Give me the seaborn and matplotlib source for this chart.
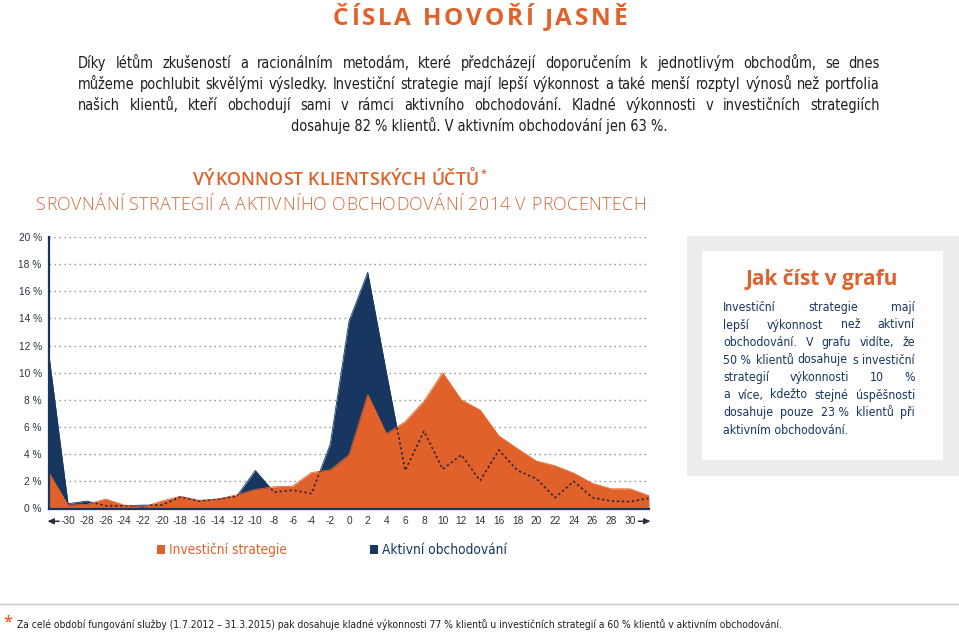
import numpy as np
import pandas as pd
import seaborn as sns
import matplotlib
matplotlib.use("Agg")
import matplotlib.pyplot as plt
from matplotlib import font_manager as fm
from matplotlib.font_manager import FontProperties
from matplotlib.patches import Rectangle, Patch
from matplotlib.lines import Line2D

# ---------------- data ----------------
returns = list(range(-32, 33, 2))
strategie = [2.6, 0.25, 0.3, 0.7, 0.25, 0.1, 0.55, 0.9, 0.6, 0.7, 1.0, 1.4, 1.6, 1.65,
             2.65, 2.85, 3.95, 8.4, 5.5, 6.4, 7.9, 10.0, 8.0, 7.25, 5.35, 4.4, 3.5,
             3.15, 2.6, 1.85, 1.45, 1.45, 0.95]
aktivni = [11.1, 0.35, 0.55, 0.2, 0.2, 0.25, 0.25, 0.85, 0.55, 0.7, 0.9, 2.8, 1.2, 1.35,
           1.1, 4.75, 13.8, 17.4, 10.0, 2.8, 5.7, 2.9, 3.95, 2.05, 4.3, 2.8, 2.2,
           0.8, 2.0, 0.8, 0.55, 0.5, 0.75]
x_tick_values = list(range(-32, 33, 2))
x_tick_labels = [""] + [str(v) for v in range(-30, 31, 2)] + [""]
y_tick_values = list(range(0, 21, 2))
y_tick_labels = [f"{v} %" for v in y_tick_values]
series_names = ["Investiční strategie", "Aktivní obchodování"]

title = "ČÍSLA HOVOŘÍ JASNĚ"
para_lines = [
    "Díky létům zkušeností a racionálním metodám, které předcházejí doporučením k jednotlivým obchodům, se dnes",
    "můžeme pochlubit skvělými výsledky. Investiční strategie mají lepší výkonnost a také menší rozptyl výnosů než portfolia",
    "našich klientů, kteří obchodují sami v rámci aktivního obchodování. Kladné výkonnosti v investičních strategiích",
    "dosahuje 82 % klientů. V aktivním obchodování jen 63 %.",
]
chart_title = "VÝKONNOST KLIENTSKÝCH ÚČTŮ"
chart_subtitle = "SROVNÁNÍ STRATEGIÍ A AKTIVNÍHO OBCHODOVÁNÍ 2014 V PROCENTECH"
box_title = "Jak číst v grafu"
box_lines = [
    "Investiční strategie mají",
    "lepší výkonnost než aktivní",
    "obchodování. V grafu vidíte, že",
    "50\u00a0% klientů dosahuje s investiční",
    "strategií výkonnosti 10 %",
    "a více, kdežto stejné úspěšnosti",
    "dosahuje pouze 23\u00a0% klientů při",
    "aktivním obchodování.",
]
footnote = ("Za celé období fungování služby (1.7.2012 – 31.3.2015) pak dosahuje kladné výkonnosti "
            "77 % klientů u investičních strategií a 60 % klientů v aktivním obchodování.")

# ---------------- style ----------------
ORANGE = "#e0612a"
NAVY = "#173760"
TXT = "#1e1e1e"
W, H = 959, 634

sns.set_theme(style="white")
plt.rcParams["font.family"] = ["DejaVu Sans"]

fig = plt.figure(figsize=(W / 100, H / 100), dpi=100)
renderer = fig.canvas.get_renderer()


def text_w(s, prop):
    w, h, d = renderer.get_text_width_height_descent(s, prop, ismath=False)
    return w


def x_height(prop):
    w, h, d = renderer.get_text_width_height_descent("x", prop, ismath=False)
    return h - d


def P(base, size):
    p = base.copy()
    p.set_size(size)
    return p


def regular_file(name, stretch=None):
    bad = ("bold", "italic", "oblique", "light", "thin", "black", "medium", "mono", "heavy")
    out = []
    for f in fm.fontManager.ttflist:
        fn = f.fname.lower().rsplit("/", 1)[-1]
        if f.name != name or f.style != "normal" or any(k in fn for k in bad):
            continue
        if str(f.weight) not in ("400", "normal", "regular", "book"):
            continue
        if stretch is not None and str(f.stretch) != stretch:
            continue
        out.append(f.fname)
    return sorted(out)[0] if out else None


_c = (regular_file("Liberation Sans Narrow") or regular_file("DejaVu Sans", "condensed")
      or regular_file("Liberation Sans"))
COND = FontProperties(fname=_c) if _c else FontProperties(family="DejaVu Sans")
_t = regular_file("Liberation Sans")
TICK = FontProperties(fname=_t) if _t else COND


def tracked(text, x0, x1, baseline, prop, color):
    chars = list(text)
    sp = text_w("a a", prop) - text_w("aa", prop)
    ws = [sp if c == " " else text_w(c, prop) for c in chars]
    tr = (x1 - x0 - sum(ws)) / (len(chars) - 1)
    x = x0
    for c, w in zip(chars, ws):
        if c != " ":
            fig.text(x / W, 1 - baseline / H, c, ha="left", va="baseline",
                     fontproperties=prop, color=color)
        x += w + tr


def justify(lines, x0, x1, y0, dy, prop, xh_px, color, last="center"):
    p = P(prop, 13)
    p.set_size(13 * xh_px / x_height(p))
    mx = max(text_w(l, p) for l in lines[:-1])
    if mx > (x1 - x0) * 0.985:
        p.set_size(p.get_size() * (x1 - x0) * 0.985 / mx)
    for i, line in enumerate(lines):
        y = 1 - (y0 + i * dy) / H
        if i == len(lines) - 1:
            if last == "center":
                fig.text((x0 + x1) / 2 / W, y, line, ha="center", va="baseline",
                         fontproperties=p, color=color)
            else:
                fig.text(x0 / W, y, line, ha="left", va="baseline",
                         fontproperties=p, color=color)
            continue
        words = line.split(" ")
        ws = [text_w(w, p) for w in words]
        gap = (x1 - x0 - sum(ws)) / (len(words) - 1)
        x = x0
        for wd, wv in zip(words, ws):
            fig.text(x / W, y, wd, ha="left", va="baseline", fontproperties=p, color=color)
            x += wv + gap
    return p


# ---------------- headings & paragraph ----------------
bold_prop = FontProperties(family="Open Sans", weight="bold")
semi_prop = FontProperties(family="Open Sans", weight="semibold")
light_prop = FontProperties(family="Open Sans", weight="light")

tracked(title, 333, 627, 25, P(bold_prop, 17.5), ORANGE)
justify(para_lines, 78, 880, 68, 21, COND, 9.0, TXT, last="center")

tracked(chart_title, 193, 479, 185, P(semi_prop, 12.8), ORANGE)
fig.text(481 / W, 1 - 177 / H, "*", fontproperties=P(semi_prop, 8),
         color=ORANGE, ha="left", va="baseline")
tracked(chart_subtitle, 36, 646, 210, P(light_prop, 12.9), "#d2683a")

# ---------------- chart ----------------
df = pd.DataFrame({"x": returns, series_names[0]: strategie, series_names[1]: aktivni})

x_left, x_right, y_bot, y_top = 49.3, 648.7, 508.5, 237.0
ax = fig.add_axes([x_left / W, 1 - y_bot / H, (x_right - x_left) / W, (y_bot - y_top) / H])
ax.set_facecolor("none")

ax.fill_between(df["x"], 0, df[series_names[1]], color=NAVY, lw=0, zorder=2)
sns.lineplot(data=df, x="x", y=series_names[1], ax=ax, color=NAVY, lw=0.6, zorder=2)
poly = ax.fill_between(df["x"], 0, df[series_names[0]], color=ORANGE, lw=0, zorder=3)
sns.lineplot(data=df, x="x", y=series_names[0], ax=ax, color=ORANGE, lw=0.6, zorder=3)
sns.lineplot(data=df, x="x", y=series_names[1], ax=ax, color="#2b2440", lw=1.2,
             linestyle=(0, (1.4, 1.6)), zorder=4)
ax.lines[-1].set_clip_path(poly.get_paths()[0], ax.transData)

ax.set_xlim(-32, 32)
ax.set_ylim(0, 20)
ax.set_xlabel("")
ax.set_ylabel("")
ax.set_axisbelow(True)
ax.yaxis.grid(True, linestyle=(0, (1, 2.6)), color="#8f8f8f", lw=1.0)
ax.xaxis.grid(False)
for s in ("top", "right"):
    ax.spines[s].set_visible(False)
for s in ("left", "bottom"):
    ax.spines[s].set_color(NAVY)
    ax.spines[s].set_linewidth(1.6)
    ax.spines[s].set_zorder(5)

tick_prop = P(TICK, 13)
tick_prop.set_size(min(9.2, 13 * 14.5 / text_w("-28", tick_prop)))
ax.set_xticks(x_tick_values)
ax.set_xticklabels(x_tick_labels, fontproperties=tick_prop, color="#2a3240")
ax.set_yticks(y_tick_values)
ax.set_yticklabels(y_tick_labels, fontproperties=tick_prop, color="#2a3240")
ax.tick_params(axis="x", direction="out", length=3.5, width=1.2, color=NAVY, pad=2)
ax.tick_params(axis="y", direction="out", length=2.5, width=1.0, color=NAVY, pad=3)

tr = ax.get_xaxis_transform()
arrow_kw = dict(arrowstyle="-|>,head_length=0.3,head_width=0.14", color="#2a3240",
                lw=1.1, shrinkA=0, shrinkB=0)
ax.annotate("", xy=(-32.2, -0.047), xytext=(-30.95, -0.047), xycoords=tr, textcoords=tr,
            arrowprops=arrow_kw, annotation_clip=False)
ax.annotate("", xy=(32.2, -0.047), xytext=(30.9, -0.047), xycoords=tr, textcoords=tr,
            arrowprops=arrow_kw, annotation_clip=False)

# legend
handles = [Patch(facecolor=ORANGE, edgecolor="none"), Patch(facecolor=NAVY, edgecolor="none")]
leg_prop = P(COND, 20)
leg_prop.set_size(min(11.5, 20 * 118 / text_w(series_names[0], leg_prop)))
leg = fig.legend(handles, series_names, loc="center", bbox_to_anchor=(332 / W, 1 - 550 / H),
                 ncol=2, frameon=False, handlelength=0.6, handleheight=0.6,
                 handletextpad=0.3, columnspacing=6.0, prop=leg_prop)
leg.get_texts()[0].set_color(ORANGE)
leg.get_texts()[1].set_color(NAVY)

# ---------------- side box ----------------
fig.patches.append(Rectangle((686.7 / W, 1 - 476 / H), (W - 686.7) / W, (476 - 236) / H,
                             transform=fig.transFigure, facecolor="#ececec", edgecolor="none", zorder=0))
fig.patches.append(Rectangle((701.7 / W, 1 - 460 / H), (943.3 - 701.7) / W, (460 - 250.7) / H,
                             transform=fig.transFigure, facecolor="white", edgecolor="none", zorder=0))
fig.text(821.5 / W, 1 - 285 / H, box_title, ha="center", va="baseline",
         fontproperties=P(bold_prop, 15), color=ORANGE)
justify(box_lines, 723.3, 915, 311, 17.5, COND, 7.4, NAVY, last="left")

# ---------------- footnote ----------------
fig.add_artist(Line2D([0, 1], [1 - 604 / H] * 2, color="#c9c9c9", lw=1.0, transform=fig.transFigure))
fig.text(3 / W, 1 - 626 / H, "*", color=ORANGE, fontproperties=P(semi_prop, 12),
         ha="left", va="baseline")
foot_prop = P(COND, 20)
foot_prop.set_size(20 * 760 / text_w(footnote, foot_prop))
fig.text(17 / W, 1 - 628 / H, footnote, ha="left", va="baseline",
         fontproperties=foot_prop, color=TXT)

fig.savefig("out.png", dpi=100)
